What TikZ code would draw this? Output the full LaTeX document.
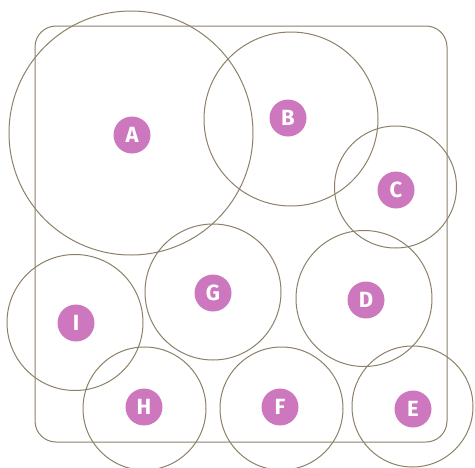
\documentclass[tikz,border=0pt]{standalone}
\usepackage{fontspec}
\setsansfont{Fira Sans}
\definecolor{linec}{HTML}{8C8068}
\definecolor{labc}{HTML}{CC77BE}
\tikzset{
  ring/.style={draw=linec, line width=1pt},
  lab/.style={circle, fill=labc, minimum size=37pt, inner sep=0pt, text=white, font=\sffamily\bfseries\fontsize{22}{22}\selectfont}
}
\begin{document}
\begin{tikzpicture}[x=1pt,y=-1pt]
\useasboundingbox (0,0) rectangle (475,467);
\draw[ring, rounded corners=21pt] (35,26) rectangle (447,442);
\draw[ring] (131,133) circle[radius=122];
\draw[ring] (291,119) circle[radius=87];
\draw[ring] (395.5,187) circle[radius=61];
\draw[ring] (213,292) circle[radius=68];
\draw[ring] (364,298.5) circle[radius=68];
\draw[ring] (75,322.5) circle[radius=68];
\draw[ring] (144.5,408.5) circle[radius=61.5];
\draw[ring] (281.5,408.5) circle[radius=61.5];
\draw[ring] (412.5,406.5) circle[radius=60.5];
\node[lab] (A) at (132,135) {A};
\node[lab] (B) at (288,118) {B};
\node[lab] (C) at (396,190) {C};
\node[lab] (G) at (213,293) {G};
\node[lab] (D) at (366,300) {D};
\node[lab] (I) at (76,323) {I};
\node[lab] (H) at (144,407) {H};
\node[lab] (F) at (280,407) {F};
\node[lab] (E) at (413,409) {E};
\end{tikzpicture}
\end{document}
